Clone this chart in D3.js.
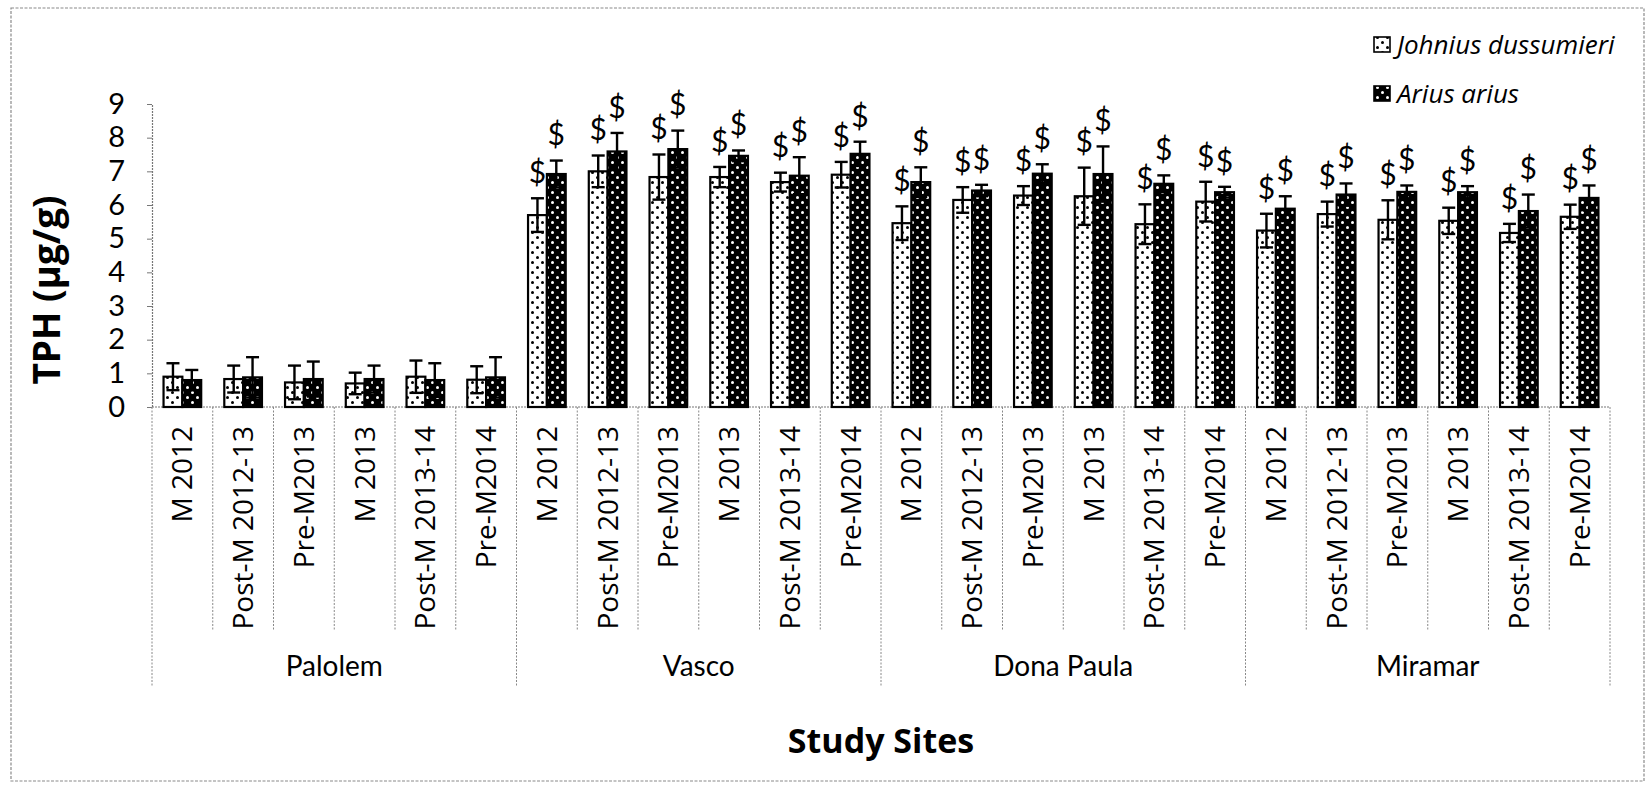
<!DOCTYPE html>
<html>
<head>
<meta charset="utf-8">
<script src="https://cdn.jsdelivr.net/npm/d3@7"></script>
<style>
  html, body { margin: 0; padding: 0; background: #fff; }
  svg { display: block; }
</style>
</head>
<body>
<svg id="chart" width="1648" height="786"></svg>
<script>
// ---- data -------------------------------------------------------------
const sites = ["Palolem", "Vasco", "Dona Paula", "Miramar"];
const seasons = ["M 2012", "Post-M 2012-13", "Pre-M2013", "M 2013", "Post-M 2013-14", "Pre-M2014"];
const seriesNames = ["Johnius dussumieri", "Arius arius"];

// TPH (µg/g), one value per site x season, in site order
const johnius = [
  0.90, 0.83, 0.73, 0.70, 0.90, 0.81,
  5.70, 7.00, 6.83, 6.83, 6.68, 6.90,
  5.46, 6.15, 6.28, 6.26, 5.43, 6.10,
  5.24, 5.73, 5.56, 5.53, 5.17, 5.65
];
const johniusErr = [
  0.40, 0.40, 0.50, 0.32, 0.48, 0.40,
  0.50, 0.47, 0.67, 0.30, 0.28, 0.38,
  0.50, 0.38, 0.28, 0.85, 0.59, 0.59,
  0.50, 0.37, 0.58, 0.39, 0.27, 0.36
];
const arius = [
  0.80, 0.88, 0.83, 0.83, 0.80, 0.88,
  6.92, 7.59, 7.66, 7.46, 6.87, 7.52,
  6.68, 6.43, 6.93, 6.92, 6.63, 6.38,
  5.89, 6.31, 6.39, 6.38, 5.82, 6.21
];
const ariusErr = [
  0.30, 0.60, 0.52, 0.40, 0.50, 0.60,
  0.40, 0.55, 0.55, 0.16, 0.55, 0.36,
  0.44, 0.17, 0.28, 0.82, 0.25, 0.16,
  0.37, 0.33, 0.19, 0.18, 0.49, 0.37
];
// significance marker ($) shown above both bars of a site
const siteMarked = [false, true, true, true];
const yTicks = [0, 1, 2, 3, 4, 5, 6, 7, 8, 9];

// ---- layout -----------------------------------------------------------
const svg = d3.select("#chart");
const plot = { left: 152, right: 1610, top: 104, bottom: 407 };

const cats = [];
sites.forEach((s, si) => seasons.forEach((p, pi) => cats.push({ site: s, si, season: p, i: si * seasons.length + pi })));

const x = d3.scaleBand().domain(cats.map(c => c.i)).range([plot.left, plot.right]).padding(0);
const y = d3.scaleLinear().domain([0, 9]).range([plot.bottom, plot.top]);
const barW = x.bandwidth() * 0.31;

// ---- fill patterns ----------------------------------------------------
const defs = svg.append("defs");
function dotPattern(id, bg, fg) {
  const p = defs.append("pattern").attr("id", id)
    .attr("patternUnits", "userSpaceOnUse").attr("width", 10).attr("height", 10);
  p.append("rect").attr("width", 10).attr("height", 10).attr("fill", bg);
  p.append("circle").attr("cx", 2.5).attr("cy", 2.5).attr("r", 1.5).attr("fill", fg);
  p.append("circle").attr("cx", 7.5).attr("cy", 7.5).attr("r", 1.5).attr("fill", fg);
}
dotPattern("dotsLight", "#fff", "#000");
dotPattern("dotsDark", "#000", "#fff");

// ---- outer frame ------------------------------------------------------
svg.append("rect")
  .attr("x", 11).attr("y", 8).attr("width", 1633).attr("height", 773)
  .attr("fill", "none").attr("stroke", "#8a8a8a").attr("stroke-width", 1.2)
  .attr("stroke-dasharray", "3 1.5");

// ---- y axis -----------------------------------------------------------
const yAxis = d3.axisLeft(y).tickValues(yTicks).tickSize(5).tickPadding(22).tickFormat(d3.format("d"));
const yg = svg.append("g").attr("transform", `translate(${plot.left},0)`).call(yAxis);
yg.select(".domain").attr("stroke", "#777").attr("stroke-width", 1.2).attr("stroke-dasharray", "2 1");
yg.selectAll(".tick line").attr("stroke", "#777");
yg.selectAll(".tick text")
  .attr("font-family", "Lato, 'Open Sans', sans-serif").attr("font-size", 29).attr("fill", "#000");

svg.append("text")
  .attr("transform", "translate(45,290) rotate(-90)")
  .attr("text-anchor", "middle").attr("dominant-baseline", "central")
  .attr("font-family", "'Open Sans', sans-serif").attr("font-weight", 700).attr("font-size", 37)
  .text("TPH (µg/g)");

// ---- x axis (two-level categories) -------------------------------------
svg.append("line")
  .attr("x1", plot.left).attr("x2", plot.right).attr("y1", plot.bottom).attr("y2", plot.bottom)
  .attr("stroke", "#777").attr("stroke-width", 1.2).attr("stroke-dasharray", "2 1");

// dividers between seasons and between sites
const dividers = d3.range(cats.length + 1);
svg.append("g").selectAll("line").data(dividers).join("line")
  .attr("x1", i => i < cats.length ? x(i) : plot.right)
  .attr("x2", i => i < cats.length ? x(i) : plot.right)
  .attr("y1", plot.bottom)
  .attr("y2", i => i % seasons.length === 0 ? 686 : 630)
  .attr("stroke", "#888").attr("stroke-width", 1).attr("stroke-dasharray", "2 1.5");

svg.append("g").selectAll("text").data(cats).join("text")
  .attr("transform", c => `translate(${x(c.i) + x.bandwidth() / 2},${plot.bottom + 19}) rotate(-90)`)
  .attr("text-anchor", "end").attr("dy", "0.36em")
  .attr("font-family", "'Open Sans', sans-serif").attr("font-size", 28).attr("fill", "#000")
  .text(c => c.season);

svg.append("g").selectAll("text").data(sites).join("text")
  .attr("x", (s, si) => (x(si * seasons.length) + (si === sites.length - 1 ? plot.right : x((si + 1) * seasons.length))) / 2)
  .attr("y", 676)
  .attr("text-anchor", "middle")
  .attr("font-family", "Lato, 'Open Sans', sans-serif").attr("font-size", 28).attr("fill", "#000")
  .text(s => s);

svg.append("text")
  .attr("x", (plot.left + plot.right) / 2).attr("y", 753)
  .attr("text-anchor", "middle")
  .attr("font-family", "'Open Sans', sans-serif").attr("font-weight", 700).attr("font-size", 34)
  .text("Study Sites");

// ---- bars -------------------------------------------------------------
const series = [
  { name: seriesNames[0], vals: johnius, errs: johniusErr, fill: "url(#dotsLight)", off: -1 },
  { name: seriesNames[1], vals: arius, errs: ariusErr, fill: "url(#dotsDark)", off: 0 }
];
const barX = (c, s) => x(c.i) + x.bandwidth() / 2 + s.off * barW;

series.forEach(s => {
  const g = svg.append("g");
  g.selectAll("rect").data(cats).join("rect")
    .attr("x", c => barX(c, s))
    .attr("y", c => y(s.vals[c.i]))
    .attr("width", barW)
    .attr("height", c => y(0) - y(s.vals[c.i]))
    .attr("fill", s.fill).attr("stroke", "#000").attr("stroke-width", 2.2);
});

// error bars (mean ± SD)
series.forEach(s => {
  const g = svg.append("g").attr("stroke", "#000").attr("stroke-width", 2.4);
  cats.forEach(c => {
    const cx = barX(c, s) + barW / 2;
    const v = s.vals[c.i], e = s.errs[c.i];
    g.append("line").attr("x1", cx).attr("x2", cx).attr("y1", y(v - e)).attr("y2", y(v + e));
    g.append("line").attr("x1", cx - 6.5).attr("x2", cx + 6.5).attr("y1", y(v + e)).attr("y2", y(v + e));
    g.append("line").attr("x1", cx - 6.5).attr("x2", cx + 6.5).attr("y1", y(v - e)).attr("y2", y(v - e));
  });
});

// significance markers
series.forEach(s => {
  svg.append("g").selectAll("text").data(cats.filter(c => siteMarked[c.si])).join("text")
    .attr("x", c => barX(c, s) + barW / 2)
    .attr("y", c => y(s.vals[c.i] + s.errs[c.i]) - 26)
    .attr("dy", "0.36em")
    .attr("text-anchor", "middle")
    .attr("font-family", "Lato, 'Open Sans', sans-serif").attr("font-size", 30).attr("fill", "#000")
    .text("$");
});

// ---- legend -----------------------------------------------------------
const legend = svg.append("g");
series.forEach((s, k) => {
  const ly = 45 + k * 49;
  legend.append("rect")
    .attr("x", 1374).attr("y", ly - 8).attr("width", 16).attr("height", 15)
    .attr("fill", s.fill).attr("stroke", "#000").attr("stroke-width", 1.6);
  legend.append("text")
    .attr("x", 1397).attr("y", ly).attr("dy", "0.35em")
    .attr("font-family", "'Open Sans', sans-serif").attr("font-style", "italic").attr("font-size", 26)
    .text(s.name);
});
</script>
</body>
</html>
